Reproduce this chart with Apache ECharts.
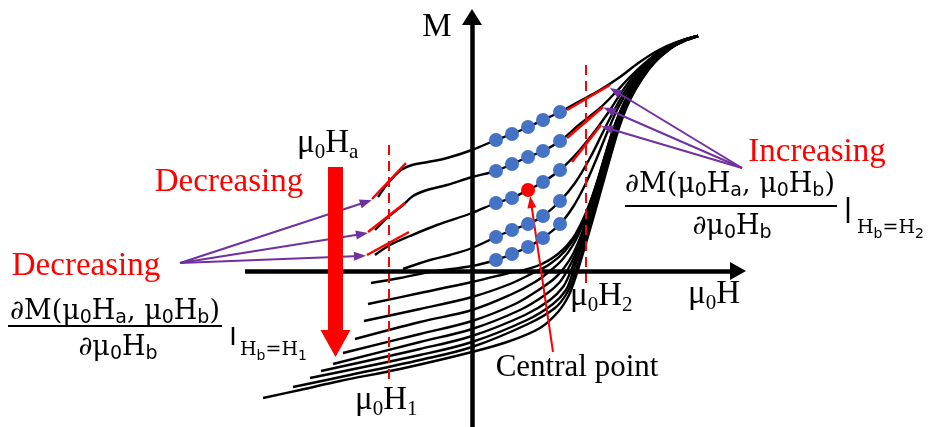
<!DOCTYPE html>
<html>
<head>
<meta charset="utf-8">
<script src="https://cdn.jsdelivr.net/npm/echarts@6/dist/echarts.min.js"></script>
<style>
  html, body { margin: 0; padding: 0; background: #fff; }
  #chart { width: 932px; height: 427px; }
</style>
</head>
<body>
<div id="chart"></div>
<script>
// First-order reversal curves M(μ0Ha, μ0Hb), arbitrary units, origin where the axes cross.
// Each curve: [μ0H, M] points from its reversal field up to saturation.
const curve1  = [[-94,74],[-83,89],[-71,101],[-60,106],[-44,109],[-25,113],[0,121],[24,131],[40,137],[56,144],[71,151],[88,159],[108,170],[128,181],[148,194],[165,207],[185,220],[205,229],[226,235]];
const curve2  = [[-97,41],[-84,54],[-69,66],[-59,75],[-45,81],[-25,86],[0,94],[24,100],[40,107],[56,114],[71,120],[88,130],[108,147],[128,163],[143,178],[158,194],[173,208],[188,220],[208,229],[226,235]];
const curve3  = [[-97,16],[-82,26],[-62,35],[-35,46],[0,58],[24,68],[40,73],[56,81],[71,89],[88,101],[106,119],[123,140],[138,161],[151,181],[165,199],[180,213],[196,224],[213,231],[226,235]];
const curve4  = [[-69,2],[-42,11],[-22,16],[0,23],[24,34],[40,41],[56,47],[71,55],[88,70],[103,88],[118,113],[132,141],[145,166],[158,187],[172,204],[188,219],[206,229],[226,235]];
const curve5  = [[-101,-12],[-72,-7],[-42,-1],[0,5],[24,11],[40,17],[56,24],[71,33],[88,47],[101,64],[113,86],[124,111],[135,138],[146,163],[159,185],[173,203],[189,218],[207,229],[226,235]];
const curve6  = [[-104,-33],[-52,-22],[0,-11],[33,-3],[65,5],[86,17],[101,33],[113,56],[123,81],[132,111],[141,141],[152,168],[165,191],[179,209],[195,222],[211,230],[226,235]];
const curve7  = [[-108,-50],[-52,-38],[0,-26],[38,-13],[61,-2],[78,7],[93,20],[106,39],[116,63],[125,89],[134,119],[144,149],[156,175],[169,196],[184,213],[200,224],[215,231],[226,235]];
const curve8  = [[-117,-68],[-52,-51],[0,-39],[38,-24],[63,-11],[78,0],[90,11],[101,26],[111,47],[120,73],[129,101],[138,131],[148,159],[160,183],[174,203],[190,219],[208,229],[226,235]];
const curve9  = [[-129,-82],[-52,-63],[0,-50],[43,-33],[68,-18],[83,-7],[92,3],[101,17],[110,38],[119,65],[128,95],[137,126],[147,155],[159,180],[173,201],[189,218],[207,229],[226,235]];
const curve10 = [[-139,-93],[-52,-71],[0,-58],[48,-39],[73,-24],[87,-12],[95,0],[103,16],[112,40],[121,68],[130,99],[139,130],[149,158],[161,182],[175,202],[191,219],[208,229],[226,235]];
const curve11 = [[-151,-100],[-52,-78],[0,-65],[53,-44],[78,-29],[91,-16],[98,-2],[106,19],[115,45],[124,74],[133,105],[142,135],[152,162],[164,185],[178,205],[194,220],[210,230],[226,235]];
const curve12 = [[-162,-107],[-52,-84],[0,-71],[55,-49],[81,-33],[94,-19],[100,-4],[108,20],[117,48],[126,78],[135,109],[144,139],[154,165],[166,188],[180,207],[196,221],[212,230],[226,235]];
const curve13 = [[-179,-116],[-122,-104],[-52,-89],[0,-76],[56,-53],[83,-37],[95,-22],[102,-5],[110,20],[119,50],[128,81],[137,113],[146,143],[156,168],[168,190],[182,208],[198,222],[213,231],[226,235]];
const curve14 = [[-209,-127],[-172,-119],[-132,-110],[-72,-98],[0,-81],[38,-70],[68,-57],[86,-41],[97,-24],[104,-5],[112,21],[121,52],[130,84],[139,116],[148,146],[158,171],[170,192],[184,210],[199,223],[214,231],[226,235]];
const reversalCurves = [curve1, curve2, curve3, curve4, curve5, curve6, curve7, curve8, curve9, curve10, curve11, curve12, curve13, curve14];

// Sampling grid around the central point (columns in μ0Hb, one row per curve)
const sampleH = [24, 40, 56, 71, 88];
const sampleRowsM = [
  [131, 137, 144, 151, 159],
  [100, 107, 114, 120, 130],
  [68, 73, 81, 89, 101],
  [34, 41, 47, 55, 70],
  [11, 17, 24, 33, 47]
];
const centralPoint = [56, 81];

// Local slopes dM/dμ0Hb at μ0H1 (left) and μ0H2 (right)
const slopesAtH1 = [[[-100,72],[-66,108]], [[-104,39],[-67,68]], [[-105,16],[-63,39]]];
const slopesAtH2 = [[[95,161],[138,186]], [[95,133],[131,164]], [[100,109],[129,146]]];

// Field markers μ0H1 and μ0H2
const fieldH1 = -83, fieldH2 = 114;
const markerH1Span = [126, -114];
const markerH2Span = [206, -14];

// Axes with arrow heads
const axisH = [[-227, 0], [266, 0]];
const axisM = [[0, -156], [0, 254]];

// Callout arrows
const leftCallouts = [[[-292, 8], [-106, 69]], [[-292, 8], [-110, 37]], [[-292, 8], [-112, 15]]];
const rightCallouts = [[[270, 103], [143, 180]], [[270, 103], [137, 161]], [[270, 103], [135, 143]]];
const centralCallout = [[81, -81], [59, 69]];
const reversalArrow = [[-136.5, 104], [-136.5, -72.5]];

const RED = '#FF0000', BLUE = '#4472C4', PURPLE = '#7030A0';
const serif = '"Liberation Serif", "Times New Roman", serif';
const mathSerif = '"DejaVu Serif", serif';
const mathSans = '"DejaVu Sans", sans-serif';

const chart = echarts.init(document.getElementById('chart'));

const series = [];

reversalCurves.forEach((c, i) => {
  series.push({
    type: 'line', name: 'curve' + (i + 1), data: c, smooth: 0.35,
    symbol: 'none', silent: true, z: 2,
    lineStyle: { color: '#000', width: 2.4 }
  });
});

function segmentSeries(name, pts, style, z) {
  return { type: 'line', name, data: pts, symbol: 'none', silent: true, z, lineStyle: style };
}

series.push(segmentSeries('markerH1', [[fieldH1, markerH1Span[0]], [fieldH1, markerH1Span[1]]], { color: RED, width: 2, type: [10, 6] }, 4));
series.push(segmentSeries('markerH2', [[fieldH2, markerH2Span[0]], [fieldH2, markerH2Span[1]]], { color: RED, width: 2, type: [10, 6] }, 4));
slopesAtH1.concat(slopesAtH2).forEach((s, i) => {
  series.push(segmentSeries('slope' + i, s, { color: RED, width: 2.5 }, 5));
});

const blueDots = [];
sampleRowsM.forEach(row => row.forEach((m, j) => {
  if (!(sampleH[j] === centralPoint[0] && m === centralPoint[1])) blueDots.push([sampleH[j], m]);
}));
series.push({ type: 'scatter', name: 'samples', data: blueDots, symbolSize: 14, itemStyle: { color: BLUE, opacity: 1 }, silent: true, z: 6 });
series.push({ type: 'scatter', name: 'central', data: [centralPoint], symbolSize: 14, itemStyle: { color: RED, opacity: 1 }, silent: true, z: 7 });

function arrowSeries(name, segs, color, width, head, z) {
  return {
    type: 'line', name, data: [], silent: true, z,
    markLine: {
      silent: true, animation: false,
      symbol: ['none', 'triangle'], symbolSize: head,
      label: { show: false }, emphasis: { disabled: true },
      lineStyle: { color, width, type: 'solid', opacity: 1 },
      data: segs.map(s => [{ coord: s[0] }, { coord: s[1] }])
    }
  };
}
series.push(arrowSeries('axisH', [axisH], '#000', 4.5, [18, 16], 3));
series.push(arrowSeries('axisM', [axisM], '#000', 4.5, [20, 16], 3));
series.push(arrowSeries('calloutsLeft', leftCallouts, PURPLE, 2, [9, 12], 8));
series.push(arrowSeries('calloutsRight', rightCallouts, PURPLE, 2, [9, 12], 8));
series.push(arrowSeries('calloutCentral', [centralCallout], RED, 2, [9, 12], 8));
series.push(arrowSeries('reversalArrow', [reversalArrow], RED, 15, [30, 27], 8));

// Text helpers: main glyphs with lowered subscripts
function labelRich(size, sub, color, fam) {
  return {
    m: { fontFamily: fam, fontSize: size, lineHeight: size + 3, verticalAlign: 'top', fill: color },
    s: { fontFamily: fam, fontSize: sub, lineHeight: Math.round(sub * 0.85), verticalAlign: 'bottom', fill: color }
  };
}
function richText(x, y, text, rich, align) {
  return {
    type: 'text', x, y, silent: true, z: 20,
    style: { text, rich, align: align || 'left', textAlign: align || 'left', verticalAlign: 'middle', textVerticalAlign: 'middle' }
  };
}
function plainText(x, y, text, size, color, fam) {
  return {
    type: 'text', x, y, silent: true, z: 20,
    style: { text, fontFamily: fam || serif, fontSize: size, fill: color, align: 'center', textAlign: 'center', verticalAlign: 'middle', textVerticalAlign: 'middle' }
  };
}
const axisRich = labelRich(33, 21, '#000', serif);
const mathRich = {
  n: { fontFamily: mathSerif, fontSize: 27, lineHeight: 30, verticalAlign: 'top', fill: '#000' },
  s: { fontFamily: mathSans, fontSize: 19, lineHeight: 16, verticalAlign: 'bottom', fill: '#000' }
};
const evalRich = {
  n: { fontFamily: mathSerif, fontSize: 19, lineHeight: 22, verticalAlign: 'top', fill: '#000' },
  s: { fontFamily: mathSans, fontSize: 14, lineHeight: 12, verticalAlign: 'bottom', fill: '#000' }
};
const numerator = '{n|∂M(μ}{s|0}{n|H}{s|a}{n|, μ}{s|0}{n|H}{s|b}{n|)}';
const denominator = '{n|∂μ}{s|0}{n|H}{s|b}';

function derivative(numX, numY, barX1, barX2, barY, denX, denY, pipeX, pipeY1, pipeY2, subX, subY, idx) {
  return [
    richText(numX, numY, numerator, mathRich, 'center'),
    { type: 'line', silent: true, z: 20, shape: { x1: barX1, y1: barY, x2: barX2, y2: barY }, style: { stroke: '#000', lineWidth: 2 } },
    richText(denX, denY, denominator, mathRich, 'center'),
    { type: 'line', silent: true, z: 20, shape: { x1: pipeX, y1: pipeY1, x2: pipeX, y2: pipeY2 }, style: { stroke: '#000', lineWidth: 2.5 } },
    richText(subX, subY, '{n|H}{s|b}{n|=H}{s|' + idx + '}', evalRich, 'left')
  ];
}

const graphics = [
  plainText(437, 27, 'M', 33, '#000'),
  richText(688, 296, '{m|μ}{s|0}{m|H}', axisRich),
  richText(570, 298, '{m|μ}{s|0}{m|H}{s|2}', axisRich),
  richText(355, 402, '{m|μ}{s|0}{m|H}{s|1}', axisRich),
  richText(297, 145, '{m|μ}{s|0}{m|H}{s|a}', axisRich),
  plainText(229, 182, 'Decreasing', 33, RED),
  plainText(86, 266, 'Decreasing', 33, RED),
  plainText(817, 152, 'Increasing', 33, RED),
  plainText(577, 368, 'Central point', 31, '#000')
].concat(
  derivative(730, 186, 625, 837, 206, 732, 228, 848, 197, 223, 857, 230, 2),
  derivative(115, 313, 8, 222, 326, 118, 349, 233, 327, 345, 240, 352, 1)
);

chart.setOption({
  animation: false,
  backgroundColor: '#fff',
  grid: { left: 0, right: 0, top: 0, bottom: 0 },
  xAxis: { type: 'value', min: -472, max: 460, show: false },
  yAxis: { type: 'value', min: -156, max: 271, show: false },
  series,
  graphic: graphics
});
</script>
</body>
</html>
